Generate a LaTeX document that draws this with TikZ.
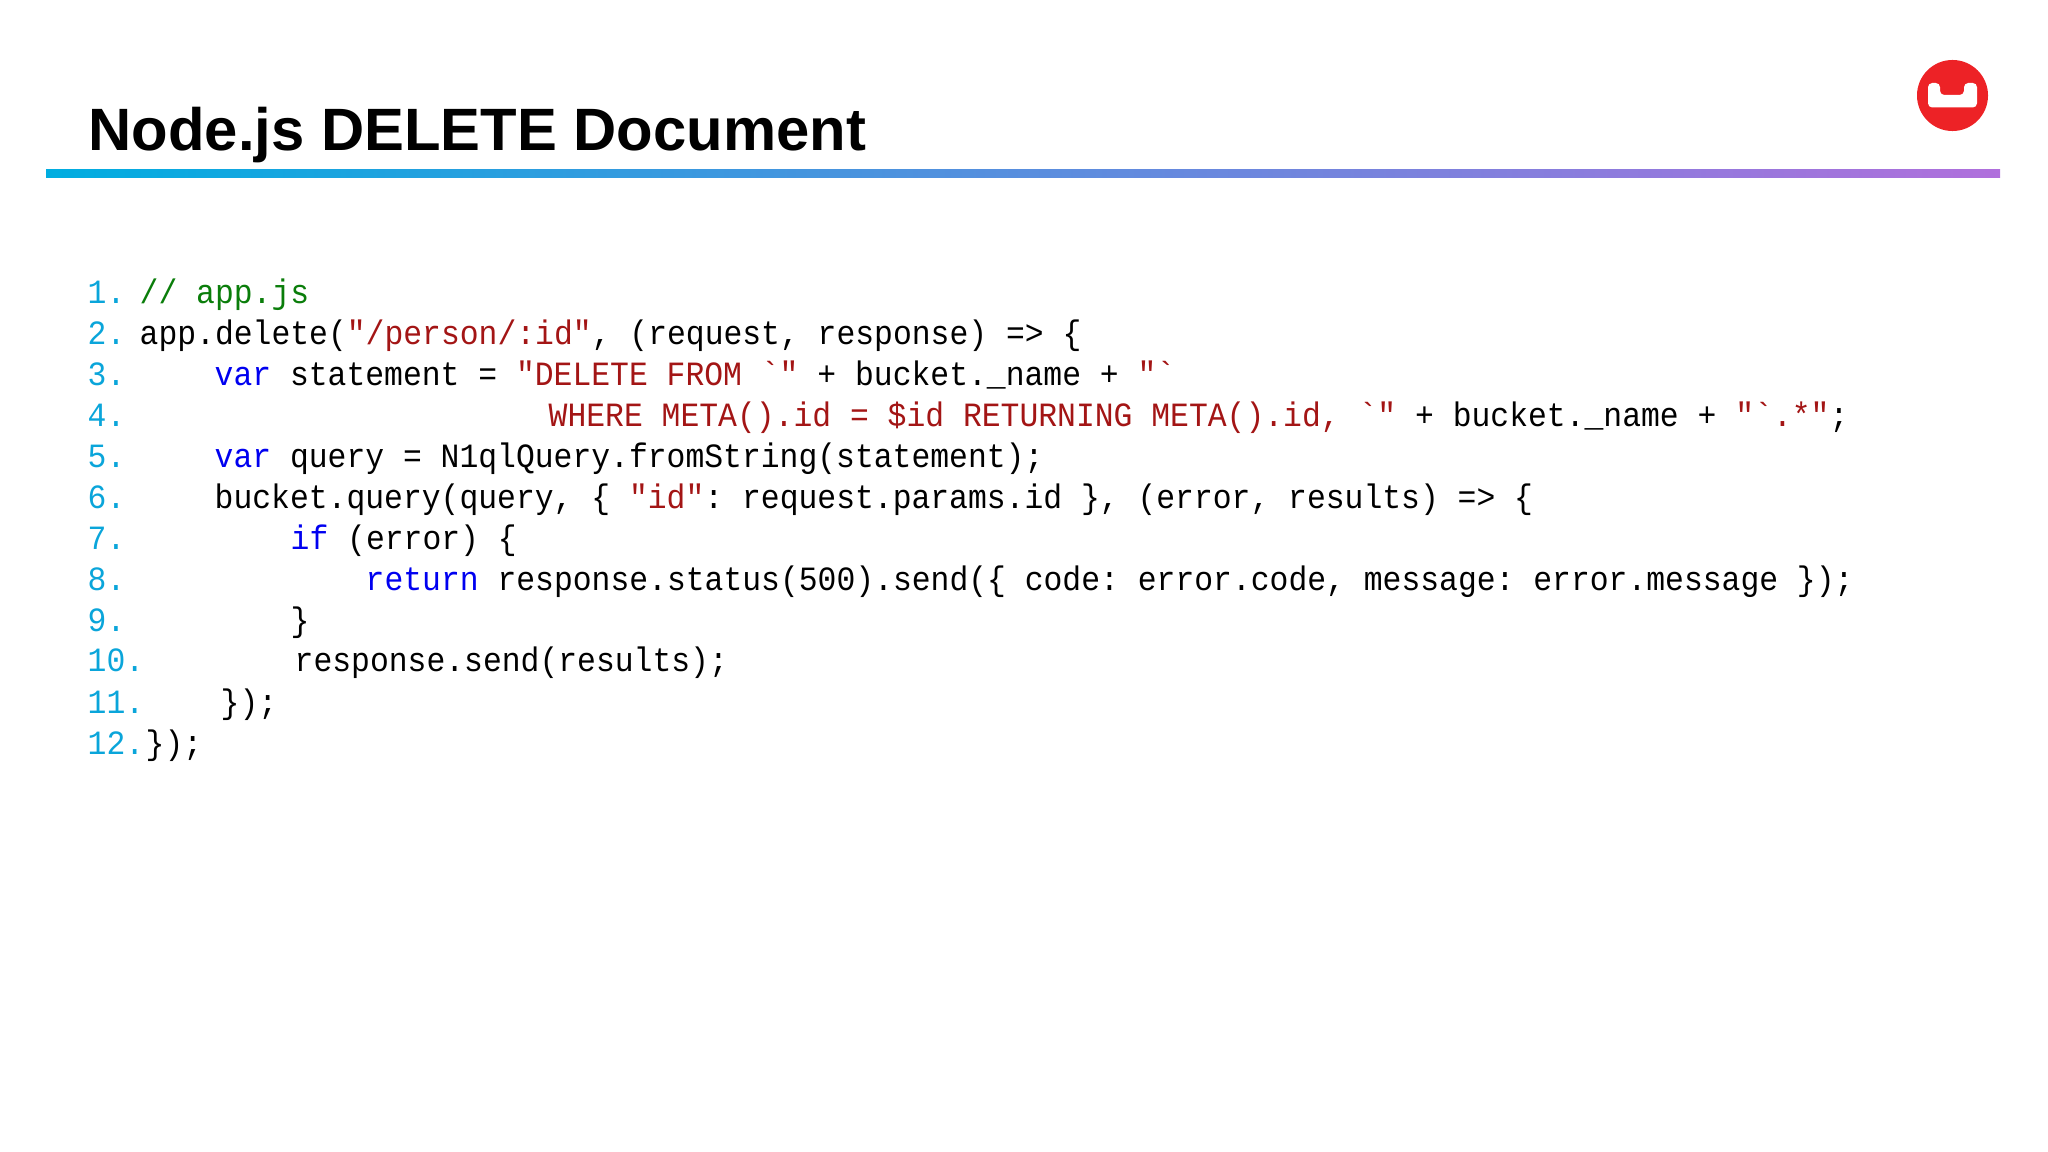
\documentclass[tikz,border=0pt]{standalone}
\usepackage{fontspec}
\usetikzlibrary{positioning}
\setmainfont{Liberation Sans}
\newfontfamily\codefont[FakeStretch=0.923]{Liberation Mono}
\definecolor{numblue}{HTML}{0AA5DA}
\definecolor{cmtgreen}{HTML}{0A7D0A}
\definecolor{kwblue}{HTML}{0000F0}
\definecolor{strred}{HTML}{A31515}
\definecolor{logored}{HTML}{ED2226}
\definecolor{barleft}{HTML}{00ADE0}
\definecolor{barmid}{HTML}{7C97E2}
\definecolor{barright}{HTML}{B06FDC}
\newcommand{\kw}[1]{\textcolor{kwblue}{#1}}
\newcommand{\strtxt}[1]{\textcolor{strred}{#1}}
\frenchspacing
\tikzset{
	lnum/.style={anchor=base west, inner sep=0pt, text=numblue, font=\codefont\fontsize{9.67pt}{11pt}\selectfont},
	code/.style={anchor=base west, inner sep=0pt, text=black, font=\codefont\fontsize{9.67pt}{11pt}\selectfont},
}

\begin{document}
\begin{tikzpicture}[x=0.01cm, y=-0.01cm]
	\useasboundingbox (0, 0) rectangle (2048, 1152);
	\node[anchor=base west, inner sep=0pt, font=\bfseries\fontsize{17pt}{20pt}\selectfont] (title) at (88, 151) {Node.js DELETE Document};
	\fill[left color=barleft, middle color=barmid, right color=barright] (46, 170) rectangle (2000, 178);
	\node[circle, fill=logored, inner sep=0pt, minimum size=0.71cm] (logo) at (1952.5, 95.5) {};
	\fill[white, rounded corners=1.2pt] (1928, 83) -- (1940, 83) -- (1940, 95) -- (1964, 95) -- (1964, 83) -- (1977, 83) -- (1977, 107.5) -- (1928, 107.5) -- cycle;
	\node[lnum] (n1) at (87, 304) {1.};
	\node[lnum] (n2) at (87, 345) {2.};
	\node[lnum] (n3) at (87, 386) {3.};
	\node[lnum] (n4) at (87, 427) {4.};
	\node[lnum] (n5) at (87, 468) {5.};
	\node[lnum] (n6) at (87, 509) {6.};
	\node[lnum] (n7) at (87, 549.5) {7.};
	\node[lnum] (n8) at (87, 590.5) {8.};
	\node[lnum] (n9) at (87, 631.5) {9.};
	\node[lnum] (n10) at (87, 672) {10.};
	\node[lnum] (n11) at (87, 713) {11.};
	\node[lnum] (n12) at (87, 754) {12.};
	\node[code] (c1) at (139, 304) {\textcolor{cmtgreen}{// app.js}};
	\node[code] (c2) at (139, 345) {app.delete(\strtxt{"/person/:id"}, (request, response) => \{};
	\node[code] (c3) at (214, 386) {\kw{var} statement = \strtxt{"DELETE FROM `"} + bucket.\_name + \strtxt{"`}};
	\node[code] (c4) at (548, 427) {\strtxt{WHERE META().id = \$id RETURNING META().id, `"} + bucket.\_name + \strtxt{"`.*"};};
	\node[code] (c5) at (214, 468) {\kw{var} query = N1qlQuery.fromString(statement);};
	\node[code] (c6) at (214, 509) {bucket.query(query, \{ \strtxt{"id"}: request.params.id \}, (error, results) => \{};
	\node[code] (c7) at (290, 549.5) {\kw{if} (error) \{};
	\node[code] (c8) at (365, 590.5) {\kw{return} response.status(500).send(\{ code: error.code, message: error.message \});};
	\node[code] (c9) at (290, 631.5) {\}};
	\node[code] (c10) at (294, 672) {response.send(results);};
	\node[code] (c11) at (220, 713) {\});};
	\node[code] (c12) at (145, 754) {\});};
\end{tikzpicture}
\end{document}
